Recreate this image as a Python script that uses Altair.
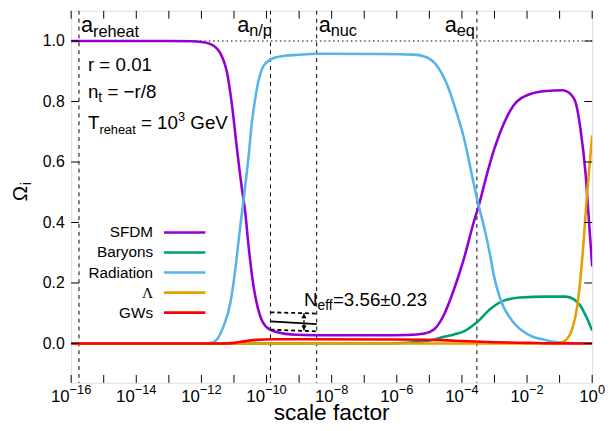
import altair as alt
import pandas as pd

# ---------------- data ----------------
sfdm_loga = [-16, -13, -12.3, -12.0, -11.72, -11.42, -11.21, -11.06, -10.91, -10.76, -10.66, -10.55,
             -10.40, -10.20, -10.00, -9.70, -9.09, -8.0, -6.5, -5.67, -5.15, -4.85, -4.55, -4.24,
             -3.94, -3.64, -3.485, -3.23, -3.03, -2.93, -2.42, -1.92, -1.41, -0.91, -0.71, -0.51,
             -0.36, -0.20, -0.10, 0.0]
sfdm_omega = [1.0, 1.0, 0.999, 0.997, 0.99, 0.96, 0.894, 0.787, 0.645, 0.515, 0.44, 0.32,
              0.19, 0.092, 0.054, 0.038, 0.029, 0.027, 0.027, 0.028, 0.033, 0.047, 0.095, 0.18,
              0.28, 0.40, 0.455, 0.56, 0.635, 0.667, 0.786, 0.824, 0.835, 0.837, 0.829, 0.797,
              0.71, 0.558, 0.407, 0.255]

rad_loga = [-16, -12.0, -11.8, -11.615, -11.31, -11.11, -10.96, -10.81, -10.69, -10.55, -10.45,
            -10.30, -10.10, -9.80, -9.39, -9.09, -8.46, -6.48, -5.5, -5.15, -4.75, -4.49, -4.24,
            -3.94, -3.64, -3.485, -3.33, -3.13, -3.03, -2.83, -2.42, -1.92, -1.41, -1.0, -0.5, 0.0]
rad_omega = [0, 0, 0.001, 0.005, 0.06, 0.135, 0.244, 0.385, 0.488, 0.62, 0.73,
             0.84, 0.916, 0.943, 0.952, 0.954, 0.958, 0.957, 0.955, 0.949, 0.916, 0.865, 0.79,
             0.68, 0.53, 0.455, 0.39, 0.29, 0.23, 0.15, 0.07, 0.027, 0.011, 0.003, 0.0005, 0.0]

bar_loga = [-16, -6.5, -6.0, -5.6, -5.0, -4.55, -4.24, -3.94, -3.54, -3.13, -2.73, -2.22,
            -1.41, -0.81, -0.56, -0.36, -0.15, 0.0]
bar_omega = [0, 0, 0.001, 0.003, 0.01, 0.022, 0.03, 0.04, 0.07, 0.114, 0.141, 0.152,
             0.155, 0.155, 0.146, 0.125, 0.081, 0.043]

lam_loga = [-16, -1.2, -1.0, -0.81, -0.61, -0.455, -0.30, -0.15, 0.0]
lam_omega = [0, 0, 0.002, 0.011, 0.049, 0.125, 0.287, 0.504, 0.688]

gw_loga = [-16, -11.4, -11.0, -10.7, -10.3, -9.8, -9.0, -6.0, -4.6, -4.0, -3.0, -2.0, -1.0, 0.0]
gw_omega = [0, 0, 0.002, 0.007, 0.012, 0.014, 0.014, 0.013, 0.011, 0.008, 0.004, 0.002, 0.0003, 0]

series_names = ["SFDM", "Baryons", "Radiation", "Λ", "GWs"]
series_colors = ["#9400d3", "#009e73", "#56b4e9", "#e69f00", "#ff0000"]

marker_names = ["reheat", "n/p", "nuc", "eq"]
marker_loga = [-15.76, -9.88, -8.46, -3.54]

neff_loga = [-9.88, -8.46]
neff_mid = [0.073, 0.064]
neff_hi = [0.103, 0.099]
neff_lo = [0.046, 0.040]
neff_arrow_loga = -8.85

x_major = [-16, -14, -12, -10, -8, -6, -4, -2, 0]
x_minor = list(range(-16, 1))
y_ticks = [0.0, 0.2, 0.4, 0.6, 0.8, 1.0]

# ---------------- layout ----------------
FONT = "Liberation Sans"
W, H = 528, 377
XMIN, XMAX = -16, 0
YMIN, YMAX = -0.13, 1.1
PXD = W / (XMAX - XMIN)  # pixels per decade

xscale = alt.Scale(domain=[XMIN, XMAX], nice=False, zero=False)
yscale = alt.Scale(domain=[YMIN, YMAX], nice=False, zero=False)
yax = alt.Axis(values=y_ticks, format=".1f", ticks=False, domain=False, grid=False,
               labelFont=FONT, labelFontSize=16, labelPadding=7, labelColor="black", title=None)

AW = {' ': 278, '=': 584, '−': 584, '-': 333, '.': 278, '/': 278, '±': 584, 'Ω': 768,
      'A': 667, 'G': 778, 'N': 722, 'T': 611, 'V': 667, 'a': 556, 'c': 500, 'e': 556,
      'f': 278, 'h': 556, 'i': 222, 'n': 556, 'p': 556, 'q': 556, 'r': 333, 't': 278,
      'u': 556, 'l': 222, 'o': 556, 's': 500}


def tw(s, size):
    return sum(AW.get(c, 556) for c in s) * size / 1000.0


def px_of(la):
    return (la - XMIN) * PXD


ONE = pd.DataFrame({"k": [0]})


def label(s, px, py, size, align="left", baseline="alphabetic", angle=0, font=FONT):
    return alt.Chart(ONE).mark_text(text=s, font=font, fontSize=size, align=align,
                                    baseline=baseline, angle=angle, color="black").encode(
        x=alt.value(px), y=alt.value(py))


def rich(pieces, px, py):
    out = []
    x = px
    for s, size, rise in pieces:
        stripped = s.lstrip(" ")
        lead = tw(s[:len(s) - len(stripped)], size)
        out.append(label(stripped, x + lead, py - rise, size))
        x += tw(s, size)
    return out


layers = []

# vertical dashed marker lines
mk = pd.DataFrame({"name": marker_names, "loga": marker_loga})
layers.append(alt.Chart(mk).mark_rule(color="black", strokeWidth=1, strokeDash=[4, 4]).encode(
    x=alt.X("loga:Q", scale=xscale, axis=None)))

# dotted line at 1
layers.append(alt.Chart(pd.DataFrame({"v": [1.0]})).mark_rule(
    color="black", strokeWidth=1.2, strokeDash=[1.5, 3]).encode(
    y=alt.Y("v:Q", scale=yscale, axis=yax)))

# curves
series_data = [(sfdm_loga, sfdm_omega), (bar_loga, bar_omega), (rad_loga, rad_omega),
               (lam_loga, lam_omega), (gw_loga, gw_omega)]
for name, col, (lx, ly) in zip(series_names, series_colors, series_data):
    df = pd.DataFrame({"loga": lx, "omega": ly})
    layers.append(alt.Chart(df).mark_line(color=col, strokeWidth=2.6, interpolate="monotone",
                                          clip=True).encode(
        x=alt.X("loga:Q", scale=xscale, axis=None),
        y=alt.Y("omega:Q", scale=yscale, axis=yax)))

# N_eff band
for vals, dash, sw in [(neff_hi, [4, 3], 1.8), (neff_lo, [4, 3], 1.8), (neff_mid, None, 1.6)]:
    df = pd.DataFrame({"loga": neff_loga, "omega": vals})
    kw = dict(color="black", strokeWidth=sw)
    if dash:
        kw["strokeDash"] = dash
    layers.append(alt.Chart(df).mark_line(**kw).encode(
        x=alt.X("loga:Q", scale=xscale, axis=None),
        y=alt.Y("omega:Q", scale=yscale, axis=yax)))

arr = pd.DataFrame({"loga": [neff_arrow_loga], "lo": [neff_lo[0] - 0.002], "hi": [neff_hi[0] - 0.003]})
layers.append(alt.Chart(arr).mark_rule(color="black", strokeWidth=1.5, strokeDash=[2, 2]).encode(
    x=alt.X("loga:Q", scale=xscale, axis=None),
    y=alt.Y("lo:Q", scale=yscale, axis=yax), y2="hi:Q"))
heads = pd.DataFrame({"loga": [neff_arrow_loga, neff_arrow_loga],
                      "omega": [neff_hi[0] - 0.012, neff_lo[0] + 0.006],
                      "shape": ["triangle-up", "triangle-down"]})
layers.append(alt.Chart(heads).mark_point(filled=True, size=28, color="black", opacity=1).encode(
    x=alt.X("loga:Q", scale=xscale, axis=None),
    y=alt.Y("omega:Q", scale=yscale, axis=yax),
    shape=alt.Shape("shape:N", scale=None, legend=None)))

# inward ticks
xt = pd.DataFrame({"t": x_minor})
for y1, y2 in [(H, H - 8), (0, 8)]:
    layers.append(alt.Chart(xt).mark_rule(color="black", strokeWidth=1).encode(
        x=alt.X("t:Q", scale=xscale, axis=None), y=alt.value(y1), y2=alt.value(y2)))
yt = pd.DataFrame({"v": y_ticks})
for x1, x2 in [(0, 8), (W, W - 8)]:
    layers.append(alt.Chart(yt).mark_rule(color="black", strokeWidth=1).encode(
        y=alt.Y("v:Q", scale=yscale, axis=yax), x=alt.value(x1), x2=alt.value(x2)))

# x tick labels 10^n
BASE_FS, EXP_FS = 17, 13
rows = []
for t in x_major:
    e = "0" if t == 0 else "−" + str(-t)
    bw = tw("10", BASE_FS)
    ew = tw(e, EXP_FS)
    start = px_of(t) - (bw + ew) / 2
    rows.append({"bx": XMIN + start / PXD, "ex": XMIN + (start + bw) / PXD, "base": "10", "exp": e})
xl = pd.DataFrame(rows)
layers.append(alt.Chart(xl).mark_text(font=FONT, fontSize=BASE_FS, align="left", baseline="alphabetic",
                                      color="black").encode(
    x=alt.X("bx:Q", scale=xscale, axis=None), y=alt.value(396), text="base:N"))
layers.append(alt.Chart(xl).mark_text(font=FONT, fontSize=EXP_FS, align="left", baseline="alphabetic",
                                      color="black").encode(
    x=alt.X("ex:Q", scale=xscale, axis=None), y=alt.value(388.5), text="exp:N"))

# axis titles
layers.append(label("scale factor", W / 2, 415, 23, align="center"))
layers.append(label("Ω", -45, 193, 21, angle=270))
layers.append(label("i", -41, 193 - tw("Ω", 21), 15.5, angle=270))

# marker labels
A_FS, S_FS = 22, 16.5
ab = 21
layers += rich([("a", A_FS, 0), ("reheat", S_FS, -4.5)], px_of(marker_loga[0]) + 2, ab + 1)
w_np = tw("a", A_FS) + tw("n/p", S_FS)
layers += rich([("a", A_FS, 0), ("n/p", S_FS, -4.5)], px_of(marker_loga[1]) + 1.5 - w_np, ab)
layers += rich([("a", A_FS, 0), ("nuc", S_FS, -4.5)], px_of(marker_loga[2]) + 2, ab)
w_eq = tw("a", A_FS) + tw("eq", S_FS)
layers += rich([("a", A_FS, 0), ("eq", S_FS, -4.5)], px_of(marker_loga[3]) - 2 - w_eq, ab)

# parameter text
T_FS = 19
layers += rich([("r = 0.01", T_FS, 0)], 17, 61.5)
layers += rich([("n", T_FS, 0), ("t", 14, -4.5), (" = −r/8", T_FS, 0)], 17, 88)
layers += rich([("T", T_FS, 0), ("reheat", 13, -4.5), (" = 10", T_FS, 0), ("3", 13, 8),
                (" GeV", T_FS, 0)], 17, 120)

# N_eff text
layers += rich([("N", T_FS, 0), ("eff", 14, -5), ("=3.56±0.23", T_FS, 0)], 236, 298.7)

# legend
LEG_FS = 15.5
for i, (name, col) in enumerate(zip(series_names, series_colors)):
    yy = 224.7 + i * 20.3
    layers.append(label(name, 83, yy, LEG_FS, align="right", baseline="middle",
                        font=("Liberation Serif" if name == "Λ" else FONT)))
    layers.append(alt.Chart(ONE).mark_rule(color=col, strokeWidth=2.6).encode(
        x=alt.value(94), x2=alt.value(136), y=alt.value(yy)))

chart = alt.layer(*layers).properties(
    width=W, height=H, autosize="none",
    padding={"left": 64, "top": 0, "right": 13, "bottom": 44},
).configure_view(stroke="black", strokeWidth=1.5).configure(background="white")

chart.save("out.html", embed_options={"renderer": "svg", "actions": False})
